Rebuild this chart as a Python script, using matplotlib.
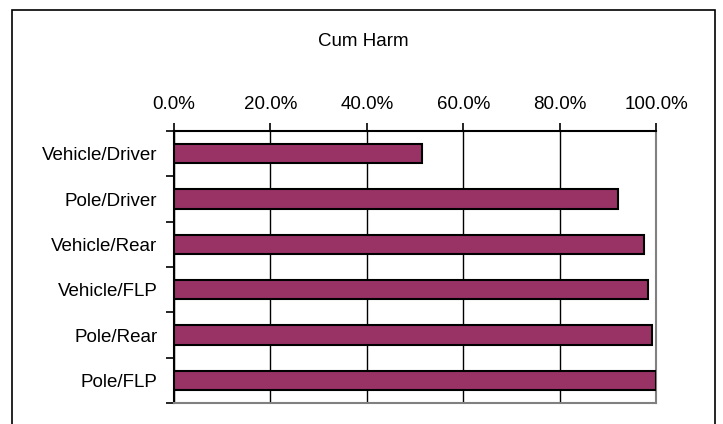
import matplotlib
matplotlib.use("Agg")
import matplotlib.pyplot as plt
from matplotlib.patches import Rectangle
from matplotlib.ticker import FuncFormatter, MultipleLocator, FixedLocator

plt.rcParams["font.family"] = ["Liberation Sans", "DejaVu Sans"]

categories = ["Vehicle/Driver", "Pole/Driver", "Vehicle/Rear",
              "Vehicle/FLP", "Pole/Rear", "Pole/FLP"]
cum_harm = [0.514, 0.922, 0.975, 0.984, 0.992, 1.0]
title = "Cum Harm"

fig = plt.figure(figsize=(7.23, 4.24), dpi=100)
ax = fig.add_axes([174 / 723, 1 - 403 / 424, 482 / 723, 272 / 424])

# outer chart border (runs past the bottom of the image)
fig.patches.append(Rectangle((12 / 723, -0.05), 703 / 723, 1 - 10 / 424 + 0.05,
                             transform=fig.transFigure, fill=False,
                             edgecolor="black", linewidth=1.2))

y = list(range(len(categories)))
ax.barh(y, cum_harm, height=0.42, color="#993366", edgecolor="black",
        linewidth=1.5, zorder=3)

ax.set_xlim(0, 1)
ax.set_ylim(len(categories) - 0.5, -0.5)
ax.xaxis.set_major_locator(MultipleLocator(0.2))
ax.xaxis.set_major_formatter(FuncFormatter(lambda v, p: f"{v * 100:.1f}%"))
ax.xaxis.tick_top()
ax.grid(axis="x", color="black", linewidth=1.0, zorder=1)

ax.set_yticks(y)
ax.set_yticklabels(categories)
ax.yaxis.set_minor_locator(FixedLocator([i - 0.5 for i in range(len(categories) + 1)]))
ax.tick_params(axis="y", which="major", length=0, pad=12, labelsize=13.5)
ax.tick_params(axis="y", which="minor", length=6, width=1.2, color="black")
ax.tick_params(axis="x", length=6, width=1.2, pad=7, labelsize=13.5)

for side in ["top", "left"]:
    ax.spines[side].set_color("black")
    ax.spines[side].set_linewidth(1.5)
for side in ["right", "bottom"]:
    ax.spines[side].set_color("#808080")
    ax.spines[side].set_linewidth(1.5)

fig.text(363 / 723, 1 - 42 / 424, title, ha="center", va="center", fontsize=13.5)

fig.savefig("out.png", dpi=100)
